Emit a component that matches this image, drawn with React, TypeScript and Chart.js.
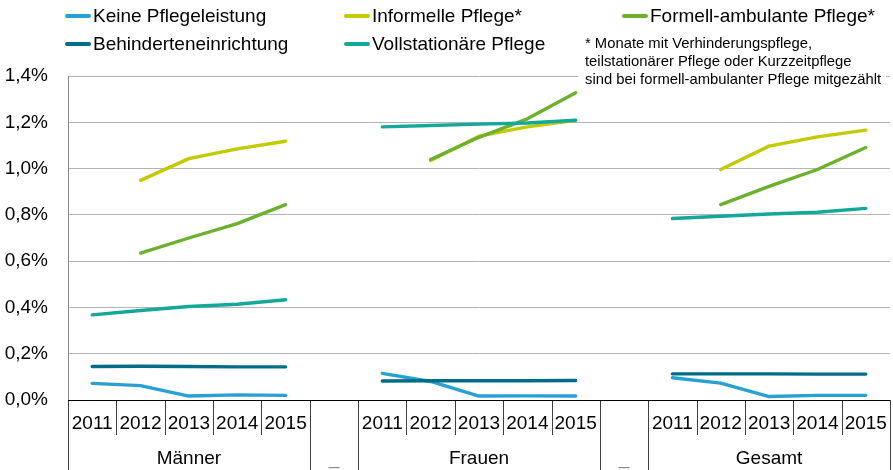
import React, { useEffect, useRef } from "react";
import { Chart, registerables } from "chart.js";

Chart.register(...registerables);

// ---------- data ----------
const years = ["2011", "2012", "2013", "2014", "2015"];
const groups = ["Männer", "Frauen", "Gesamt"];
const gapLabel = "_";

const seriesNames = [
  "Keine Pflegeleistung",
  "Informelle Pflege*",
  "Formell-ambulante Pflege*",
  "Behinderteneinrichtung",
  "Vollstationäre Pflege",
];
const seriesColors = ["#27a1d3", "#c1cb00", "#6cb12e", "#006c87", "#14a89b"];

// values in percent, per group (Männer, Frauen, Gesamt), years 2011..2015
const keineM = [0.072, 0.062, 0.017, 0.022, 0.02];
const keineF = [0.115, 0.08, 0.017, 0.018, 0.017];
const keineG = [0.096, 0.073, 0.015, 0.02, 0.02];

const informellM = [null, 0.949, 1.043, 1.085, 1.118];
const informellF = [null, 1.035, 1.14, 1.18, 1.208];
const informellG = [null, 0.996, 1.097, 1.137, 1.166];

const formellM = [null, 0.635, 0.7, 0.762, 0.844];
const formellF = [null, 1.039, 1.135, 1.215, 1.328];
const formellG = [null, 0.844, 0.923, 0.996, 1.091];

const behindertM = [0.145, 0.146, 0.145, 0.143, 0.143];
const behindertF = [0.082, 0.083, 0.083, 0.083, 0.084];
const behindertG = [0.113, 0.113, 0.113, 0.112, 0.112];

const vollM = [0.368, 0.387, 0.404, 0.414, 0.433];
const vollF = [1.18, 1.186, 1.192, 1.197, 1.209];
const vollG = [0.784, 0.794, 0.804, 0.811, 0.828];

const footnoteLines = [
  "* Monate mit Verhinderungspflege,",
  "teilstationärer Pflege oder Kurzzeitpflege",
  "sind bei formell-ambulanter Pflege mitgezählt",
];

// ---------- build ----------
function joinGroups(m: (number | null)[], f: (number | null)[], g: (number | null)[]) {
  return [...m, null, ...f, null, ...g];
}

const labels: string[][] = [];
groups.forEach((grp, gi) => {
  years.forEach((y, yi) => {
    labels.push(yi === 2 ? [y, grp] : [y]);
  });
  if (gi < groups.length - 1) labels.push(["", gapLabel]);
});

const seriesData = [
  joinGroups(keineM, keineF, keineG),
  joinGroups(informellM, informellF, informellG),
  joinGroups(formellM, formellF, formellG),
  joinGroups(behindertM, behindertF, behindertG),
  joinGroups(vollM, vollF, vollG),
];
// draw order (lower = on top)
const drawOrder = [4, 3, 2, 1, 0];

const FONT = "'Liberation Sans', Arial, sans-serif";

const separatorPlugin = {
  id: "categorySeparators",
  afterDraw(chart: any) {
    const x = chart.scales.x;
    const ctx = chart.ctx;
    const n = x.ticks.length;
    ctx.save();
    ctx.lineWidth = 1;
    ctx.strokeStyle = "#404040";
    for (let b = 0; b <= n; b++) {
      let px: number;
      if (b === 0) px = x.left;
      else if (b === n) px = x.right;
      else px = (x.getPixelForTick(b - 1) + x.getPixelForTick(b)) / 2;
      const long = b === 0 || b === n || b % 6 === 0 || b % 6 === 5;
      const y1 = long ? chart.height : x.top + 35;
      const xx = Math.round(px) + 0.5;
      ctx.beginPath();
      ctx.moveTo(xx, x.top);
      ctx.lineTo(xx, y1);
      ctx.stroke();
    }
    ctx.strokeStyle = "#000";
    ctx.beginPath();
    ctx.moveTo(x.left, Math.round(x.top) + 0.5);
    ctx.lineTo(x.right, Math.round(x.top) + 0.5);
    ctx.stroke();
    ctx.restore();
  },
};

export default function App() {
  const canvasRef = useRef<HTMLCanvasElement | null>(null);

  useEffect(() => {
    if (!canvasRef.current) return;
    Chart.defaults.font.family = FONT;
    const chart = new Chart(canvasRef.current, {
      type: "line",
      data: {
        labels,
        datasets: seriesNames.map((name, i) => ({
          label: name,
          data: seriesData[i],
          borderColor: seriesColors[i],
          backgroundColor: seriesColors[i],
          borderWidth: 3.4,
          pointRadius: 0,
          tension: 0,
          spanGaps: false,
          borderCapStyle: "round" as const,
          borderJoinStyle: "round" as const,
          order: drawOrder[i],
        })),
      },
      options: {
        responsive: false,
        animation: false,
        layout: { padding: { top: 76, right: 3, left: 0, bottom: 0 } },
        plugins: {
          legend: { display: false },
          tooltip: { enabled: false },
        },
        scales: {
          x: {
            type: "category",
            offset: true,
            grid: { display: false, offset: true, drawOnChartArea: false, drawTicks: false },
            border: { display: false },
            ticks: {
              autoSkip: false,
              maxRotation: 0,
              minRotation: 0,
              padding: 6,
              color: (ctx: any) => (ctx.index % 6 === 5 ? "#8c8c8c" : "#000"),
              font: { size: 19, family: FONT, lineHeight: "35px" },
            },
            afterFit: (scale: any) => {
              scale.height = 70;
            },
          },
          y: {
            min: 0,
            max: 1.4,
            grid: { color: "#b5b5b5", lineWidth: 1, drawTicks: false },
            border: { display: true, color: "#8a8a8a" },
            ticks: {
              stepSize: 0.2,
              padding: 20,
              color: "#000",
              font: { size: 19, family: FONT },
              callback: (v: any) => Number(v).toFixed(1).replace(".", ",") + "%",
            },
            afterFit: (scale: any) => {
              scale.width = 68;
            },
          },
        },
      },
      plugins: [separatorPlugin],
    });
    return () => chart.destroy();
  }, []);

  const legendPos = [
    { left: 65, top: 16 },
    { left: 344, top: 16 },
    { left: 622, top: 16 },
    { left: 65, top: 44 },
    { left: 344, top: 44 },
  ];

  return (
    <div
      style={{
        position: "fixed",
        left: 0,
        top: 0,
        width: 893,
        height: 470,
        background: "#fff",
        overflow: "hidden",
        fontFamily: FONT,
      }}
    >
      <canvas ref={canvasRef} width={893} height={470} style={{ display: "block" }} />
      {seriesNames.map((name, i) => (
        <div
          key={name}
          style={{
            position: "absolute",
            left: legendPos[i].left,
            top: legendPos[i].top - 12,
            height: 24,
            display: "flex",
            alignItems: "center",
            whiteSpace: "nowrap",
            fontSize: 19,
            color: "#000",
          }}
        >
          <span
            style={{
              display: "inline-block",
              width: 26,
              height: 4,
              borderRadius: 2,
              background: seriesColors[i],
              marginRight: 2,
            }}
          />
          <span>{name}</span>
        </div>
      ))}
      <div
        style={{
          position: "absolute",
          left: 578,
          top: 33,
          width: 308,
          padding: "1px 0 4px 7px",
          boxSizing: "border-box",
          background: "#fff",
          fontSize: 14.8,
          lineHeight: "18px",
          color: "#000",
          whiteSpace: "nowrap",
        }}
      >
        {footnoteLines.map((l) => (
          <div key={l}>{l}</div>
        ))}
      </div>
    </div>
  );
}
